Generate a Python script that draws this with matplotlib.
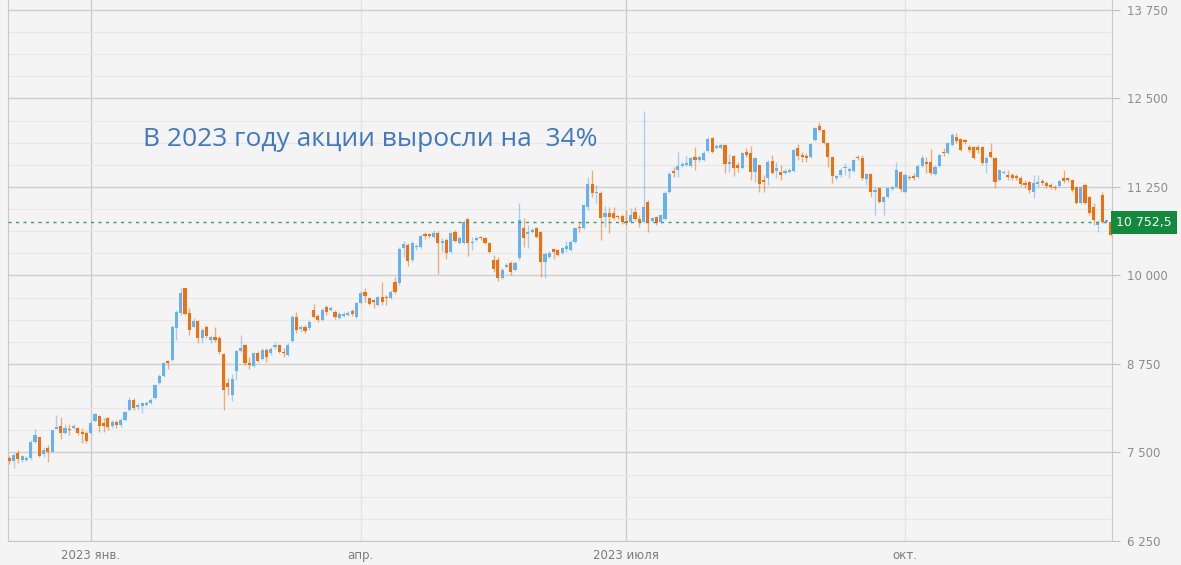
import numpy as np
import matplotlib
matplotlib.use("Agg")
import matplotlib.pyplot as plt
from matplotlib.ticker import FixedLocator, MultipleLocator, FuncFormatter
import matplotlib.transforms as mtransforms

# ---- data ----
opens = [
    7422, 7380, 7493, 7394, 7394, 7422, 7648, 7718, 7479, 7563,
    7507, 7832, 7874, 7775, 7832, 7846, 7846, 7789, 7775, 7775,
    7945, 8015, 7916, 7987, 7874, 7930, 7888, 7959, 8100, 8241,
    8142, 8156, 8170, 8199, 8269, 8481, 8580, 8792, 8806, 9258,
    9470, 9822, 9470, 9272, 9357, 9116, 9272, 9088, 9131, 9116,
    8891, 8481, 8311, 8650, 8933, 9017, 8764, 8721, 8905, 8820,
    8947, 8905, 8989, 9017, 8919, 8877, 9074, 9413, 9244, 9272,
    9258, 9512, 9427, 9371, 9554, 9512, 9484, 9399, 9427, 9441,
    9498, 9413, 9611, 9766, 9681, 9653, 9582, 9695, 9695, 9681,
    9907, 9893, 10387, 10429, 10218, 10401, 10401, 10585, 10585, 10542,
    10599, 10457, 10500, 10331, 10613, 10457, 10457, 10797, 10457, 10500,
    10542, 10528, 10457, 10218, 10218, 9963, 10119, 10175, 10077, 10246,
    10670, 10585, 10613, 10670, 10613, 10190, 10260, 10373, 10359, 10317,
    10373, 10359, 10472, 10684, 10670, 10966, 11291, 11164, 11164, 10825,
    10882, 10882, 10839, 10839, 10768, 10754, 10896, 10797, 10754, 11037,
    10768, 10825, 10754, 10797, 11178, 11474, 11489, 11545, 11559, 11545,
    11672, 11630, 11630, 11757, 11940, 11799, 11799, 11842, 11573, 11686,
    11559, 11517, 11743, 11729, 11460, 11559, 11347, 11375, 11616, 11474,
    11460, 11446, 11460, 11474, 11799, 11700, 11686, 11672, 11912, 12110,
    12053, 11870, 11672, 11375, 11418, 11517, 11474, 11474, 11672, 11658,
    11361, 11432, 11178, 11234, 11037, 11107, 11220, 11249, 11460, 11178,
    11390, 11404, 11390, 11545, 11602, 11602, 11432, 11545, 11743, 11729,
    11842, 11954, 11926, 11912, 11813, 11813, 11813, 11813, 11587, 11743,
    11658, 11347, 11446, 11418, 11418, 11404, 11375, 11305, 11319, 11178,
    11291, 11333, 11305, 11277, 11249, 11263, 11375, 11375, 11347, 11249,
    11023, 11277, 11107, 10966, 10712, 11136, 10754, 10754,
]
closes = [
    7380, 7464, 7408, 7450, 7422, 7648, 7747, 7450, 7535, 7507,
    7817, 7860, 7775, 7846, 7817, 7874, 7775, 7761, 7662, 7916,
    8044, 7874, 7874, 7860, 7930, 7888, 7959, 8072, 8241, 8128,
    8170, 8199, 8199, 8241, 8453, 8580, 8764, 8764, 9272, 9484,
    9752, 9455, 9229, 9357, 9116, 9229, 9145, 9131, 9088, 8919,
    8382, 8425, 8537, 8933, 8975, 8764, 8735, 8905, 8792, 8947,
    8848, 8961, 9017, 8919, 8905, 9017, 9413, 9229, 9272, 9215,
    9342, 9413, 9371, 9512, 9484, 9540, 9413, 9455, 9455, 9470,
    9455, 9611, 9752, 9710, 9597, 9625, 9695, 9625, 9681, 9766,
    9766, 10373, 10443, 10204, 10457, 10415, 10556, 10556, 10556, 10599,
    10457, 10486, 10317, 10599, 10486, 10528, 10754, 10457, 10472, 10528,
    10528, 10457, 10331, 10091, 9963, 10077, 10147, 10048, 10175, 10783,
    10528, 10613, 10641, 10542, 10190, 10303, 10317, 10331, 10288, 10387,
    10415, 10472, 10670, 10670, 10994, 11291, 11164, 11178, 10811, 10882,
    10825, 10811, 10825, 10754, 10740, 10853, 10797, 10754, 10966, 10754,
    10811, 10740, 10853, 11164, 11432, 11446, 11545, 11573, 11587, 11658,
    11630, 11672, 11729, 11926, 11743, 11827, 11842, 11573, 11602, 11517,
    11517, 11729, 11700, 11460, 11658, 11291, 11319, 11602, 11446, 11517,
    11418, 11474, 11489, 11771, 11686, 11672, 11658, 11856, 12082, 12053,
    11870, 11672, 11404, 11404, 11489, 11531, 11503, 11630, 11658, 11375,
    11432, 11178, 11206, 11037, 11107, 11234, 11249, 11489, 11220, 11418,
    11375, 11375, 11545, 11658, 11573, 11446, 11531, 11700, 11729, 11870,
    11983, 11898, 11771, 11884, 11771, 11658, 11771, 11587, 11658, 11672,
    11319, 11489, 11460, 11390, 11375, 11375, 11291, 11277, 11206, 11305,
    11319, 11305, 11263, 11249, 11234, 11333, 11333, 11347, 11206, 11023,
    11249, 11023, 10882, 10783, 10754, 10754, 10783, 10571,
]
highs = [
    7450, 7493, 7535, 7464, 7450, 7676, 7832, 7718, 7577, 7606,
    7817, 8029, 8001, 7902, 7902, 7902, 7860, 7846, 7803, 7945,
    8058, 8029, 7987, 8001, 7959, 7959, 7987, 8086, 8283, 8269,
    8199, 8213, 8227, 8269, 8467, 8608, 8778, 8806, 9300, 9512,
    9822, 9822, 9540, 9399, 9371, 9258, 9300, 9159, 9272, 9145,
    8905, 8552, 8608, 8947, 9159, 9032, 8848, 8919, 8933, 8975,
    8975, 8989, 9060, 9032, 8975, 9046, 9441, 9484, 9300, 9300,
    9371, 9597, 9455, 9540, 9582, 9568, 9512, 9484, 9484, 9498,
    9526, 9625, 9780, 9822, 9695, 9667, 9710, 9907, 9724, 9794,
    9977, 10401, 10486, 10457, 10486, 10443, 10585, 10613, 10599, 10641,
    10627, 10528, 10528, 10613, 10641, 10556, 10783, 10811, 10542, 10556,
    10556, 10542, 10472, 10288, 10260, 10105, 10175, 10204, 10204, 11023,
    10811, 10712, 10670, 10684, 10627, 10331, 10345, 10387, 10373, 10401,
    10486, 10500, 10684, 10754, 11008, 11390, 11489, 11277, 11192, 10980,
    10966, 10966, 10853, 10867, 10924, 10952, 10966, 10853, 12322, 11065,
    10825, 10839, 10867, 11192, 11460, 11531, 11743, 11602, 11686, 11672,
    11813, 11700, 11757, 11954, 11954, 11856, 11870, 11856, 11714, 11700,
    11602, 11743, 11799, 11827, 11672, 11573, 11418, 11630, 11700, 11602,
    11559, 11503, 11517, 11785, 11856, 11743, 11729, 11870, 12096, 12166,
    12068, 11884, 11686, 11418, 11517, 11587, 11531, 11644, 11700, 11700,
    11446, 11446, 11249, 11249, 11121, 11249, 11263, 11602, 11474, 11446,
    11418, 11446, 11573, 11700, 11672, 11785, 11559, 11714, 11799, 11884,
    12011, 12011, 11940, 11926, 11842, 11827, 11842, 11827, 11686, 11870,
    11672, 11503, 11489, 11489, 11446, 11432, 11404, 11347, 11333, 11418,
    11418, 11361, 11333, 11305, 11277, 11347, 11489, 11390, 11361, 11263,
    11263, 11305, 11121, 11023, 10783, 11178, 10797, 10768,
]
lows = [
    7338, 7281, 7352, 7366, 7380, 7394, 7634, 7436, 7436, 7366,
    7507, 7846, 7690, 7761, 7747, 7832, 7747, 7634, 7634, 7761,
    7930, 7789, 7789, 7817, 7846, 7846, 7860, 7945, 8086, 8100,
    8100, 8058, 8156, 8185, 8255, 8467, 8566, 8679, 8792, 9088,
    9441, 9441, 9159, 9258, 9046, 9046, 9116, 9046, 9060, 8891,
    8100, 8311, 8227, 8523, 8919, 8735, 8679, 8707, 8778, 8806,
    8778, 8877, 8961, 8905, 8848, 8862, 9060, 9187, 9201, 9187,
    9229, 9399, 9342, 9357, 9441, 9498, 9385, 9385, 9413, 9427,
    9427, 9399, 9597, 9625, 9582, 9540, 9568, 9582, 9582, 9667,
    9738, 9865, 10260, 10133, 10190, 10359, 10387, 10514, 10528, 10528,
    10020, 10331, 10232, 10317, 10472, 10443, 10443, 10274, 10359, 10486,
    10500, 10443, 10317, 10048, 9921, 9949, 10105, 10006, 10062, 10218,
    10401, 10387, 10599, 10528, 9977, 9963, 10246, 10232, 10274, 10303,
    10331, 10345, 10457, 10613, 10656, 10924, 11107, 11023, 10500, 10684,
    10599, 10783, 10797, 10726, 10712, 10740, 10768, 10684, 10740, 10613,
    10754, 10712, 10740, 10783, 11164, 11390, 11390, 11531, 11545, 11531,
    11489, 11602, 11616, 11743, 11729, 11785, 11785, 11446, 11460, 11404,
    11460, 11503, 11672, 11347, 11319, 11178, 11178, 11277, 11432, 11375,
    11347, 11432, 11446, 11460, 11630, 11602, 11602, 11658, 11898, 12039,
    11856, 11531, 11305, 11347, 11390, 11418, 11375, 11460, 11630, 11347,
    11277, 11107, 10853, 11023, 10853, 11093, 11206, 11234, 11178, 11164,
    11347, 11347, 11375, 11531, 11446, 11418, 11418, 11531, 11686, 11714,
    11827, 11870, 11757, 11856, 11743, 11644, 11729, 11559, 11446, 11658,
    11234, 11333, 11432, 11347, 11347, 11347, 11263, 11234, 11164, 11093,
    11249, 11277, 11234, 11220, 11206, 11249, 11305, 11319, 11178, 11008,
    11008, 11008, 10853, 10712, 10613, 10740, 10740, 10556,
]
last_price = 10752.5
month_ticks = [19, 82, 144, 209]
month_labels = ["2023 янв.", "апр.", "2023 июля", "окт."]
headline = "В 2023 году акции выросли на  34%"

UP = "#66b2f0"
DOWN = "#f0700f"
BG = "#f4f4f4"

o = np.array(opens, float)
c = np.array(closes, float)
h = np.array(highs, float)
lo = np.array(lows, float)
idx = np.arange(len(o))
up = c >= o
col = np.where(up, UP, DOWN)

fig = plt.figure(figsize=(11.81, 5.65), dpi=100, facecolor=BG)
ax = fig.add_axes([8 / 1181, 24 / 565, 1104 / 1181, 541 / 565])
ax.set_facecolor(BG)

# grid
ax.set_ylim(6250, 13889)
ax.set_xlim(-0.3, len(o) - 0.7)
ax.yaxis.set_major_locator(MultipleLocator(1250))
ax.yaxis.set_minor_locator(MultipleLocator(312.5))
ax.grid(which="major", axis="y", color="#cfcfcf", lw=1)
ax.grid(which="minor", axis="y", color="#e7e7e7", lw=0.8)
for i, t in enumerate(month_ticks):
    ax.axvline(t, color="#cdcdcd" if i % 2 == 0 else "#e4e4e4", lw=1, zorder=0)
ax.set_axisbelow(True)

# candles
ax.vlines(idx, lo, h, colors=col, lw=1, alpha=0.55, zorder=2)
body_lo = np.minimum(o, c)
body_h = np.maximum(np.abs(c - o), 14)
ax.bar(idx, body_h, bottom=body_lo, width=0.72, color=col, lw=0, zorder=3)

# last price line
ax.axhline(last_price, color="#3c9c62", lw=1, ls=(0, (2.2, 3.2)), zorder=4)
trans = mtransforms.blended_transform_factory(ax.transAxes, ax.transData)
ax.text(1.0035, last_price, "10 752,5", transform=trans, ha="left", va="center",
        color="white", fontsize=9, family=["DejaVu Sans"],
        bbox=dict(boxstyle="square,pad=0.4", fc="#12893c", ec="none"), zorder=6,
        clip_on=False)

# axes styling
ax.yaxis.tick_right()
ax.yaxis.set_major_formatter(FuncFormatter(lambda v, p: f"{v:,.0f}".replace(",", " ")))
ax.tick_params(axis="y", which="major", length=6, color="#c0c0c0", labelsize=8.5,
               labelcolor="#8c8c8c", pad=5)
ax.tick_params(axis="y", which="minor", length=0)
ax.xaxis.set_major_locator(FixedLocator(month_ticks))
ax.set_xticklabels(month_labels)
ax.tick_params(axis="x", length=0, labelsize=8.5, labelcolor="#7c7c7c", pad=6)
for s in ["left", "right", "bottom"]:
    ax.spines[s].set_color("#c8c8c8")
ax.spines["top"].set_visible(False)

fig.text(143 / 1181, 1 - 140 / 565, headline, ha="left", va="center",
         color="#4079c2", fontsize=19, family=["Open Sans", "DejaVu Sans"])

fig.savefig("out.png", dpi=100, facecolor=BG)
